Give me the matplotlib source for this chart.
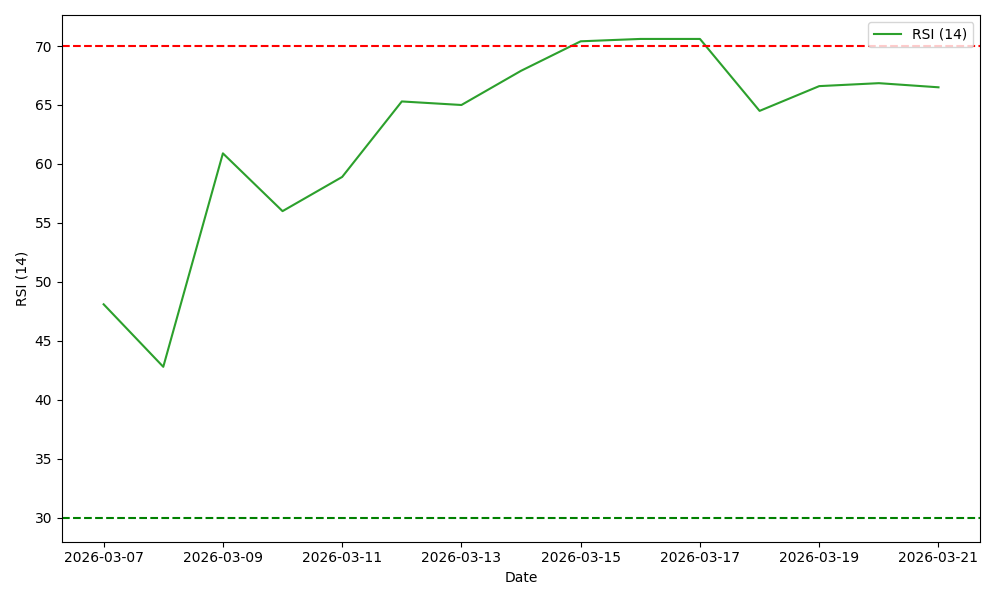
import pandas as pd
import matplotlib
matplotlib.use("Agg")
import matplotlib.pyplot as plt

# RSI values, one per day
dates = pd.date_range("2026-03-07", "2026-03-21", freq="D")
rsi = [48.1, 42.8, 60.9, 56.0, 58.9, 65.3, 65.0, 67.9, 70.4, 70.6, 70.6, 64.5, 66.6, 66.85, 66.5]

overbought = 70
oversold = 30

fig, ax = plt.subplots(figsize=(10, 6), dpi=100)
ax.plot(dates, rsi, color="tab:green", label="RSI (14)")
ax.axhline(overbought, color="red", linestyle="--")
ax.axhline(oversold, color="green", linestyle="--")

ax.set_xlabel("Date")
ax.set_ylabel("RSI (14)")
ax.legend(loc="upper right")

plt.tight_layout()
plt.savefig("out.png")
